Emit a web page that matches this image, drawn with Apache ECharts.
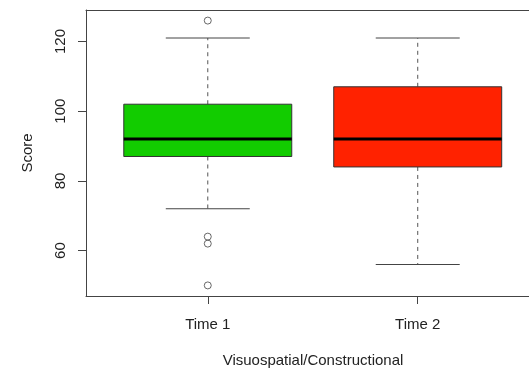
<!DOCTYPE html>
<html>
<head>
<meta charset="utf-8">
<script src="https://cdn.jsdelivr.net/npm/echarts@6/dist/echarts.min.js"></script>
<style>html,body{margin:0;padding:0;background:#fff}#c{width:529px;height:373px}</style>
</head>
<body>
<div id="c"></div>
<script>
var categories = ['Time 1', 'Time 2'];
var lowerWhisker = [72, 56];
var q1 = [87, 84];
var median = [92, 92];
var q3 = [102, 107];
var upperWhisker = [121, 121];
var outliers = [[126, 64, 62, 50], []];
var boxColors = ['#12CC00', '#FF2200'];
var yTicks = [60, 80, 100, 120];
var xTitle = 'Visuospatial/Constructional';
var yTitle = 'Score';

var boxData = categories.map(function (c, i) {
  return [i + 1, lowerWhisker[i], q1[i], median[i], q3[i], upperWhisker[i]];
});
var outlierData = [];
outliers.forEach(function (arr, i) {
  arr.forEach(function (v) { outlierData.push([i + 1, v]); });
});

var chart = echarts.init(document.getElementById('c'), null, {renderer: 'canvas'});
var font = 'Liberation Sans, Arial, sans-serif';
var lineCol = '#444';
var xMin = 0.42, xMax = 2.53;
chart.setOption({
  animation: false,
  backgroundColor: '#fff',
  grid: {left: 86, top: 10, right: 0, height: 286, show: false},
  xAxis: [{
    type: 'value', min: xMin, max: xMax, position: 'bottom',
    splitLine: {show: false},
    axisLine: {show: true, onZero: false, lineStyle: {color: lineCol, width: 1}},
    axisTick: {show: true, length: 8, customValues: [1, 2], lineStyle: {color: lineCol}},
    axisLabel: {show: true, margin: 21, customValues: [1, 2], color: '#222', fontSize: 15, fontFamily: font,
      formatter: function (v) { return categories[Math.round(v) - 1] || ''; }}
  }, {
    type: 'value', min: xMin, max: xMax, position: 'top',
    splitLine: {show: false},
    axisLine: {show: true, onZero: false, lineStyle: {color: lineCol, width: 1}},
    axisTick: {show: false}, axisLabel: {show: false}
  }],
  yAxis: {
    type: 'value', min: 46.96, max: 129.04,
    splitLine: {show: false},
    axisLine: {show: true, onZero: false, lineStyle: {color: lineCol, width: 1}},
    axisTick: {show: true, length: 8, customValues: yTicks, lineStyle: {color: lineCol}},
    axisLabel: {show: true, rotate: 90, margin: 18, customValues: yTicks, color: '#222', fontSize: 15, fontFamily: font},
    name: yTitle, nameLocation: 'middle', nameGap: 51, nameRotate: 90,
    nameTextStyle: {color: '#222', fontSize: 15, fontFamily: font}
  },
  graphic: [{
    type: 'text', x: 313, y: 361,
    style: {text: xTitle, fill: '#222', font: '15px ' + font, textAlign: 'center', textVerticalAlign: 'middle'}
  }],
  series: [{
    type: 'custom',
    data: boxData,
    encode: {x: 0, y: [1, 2, 3, 4, 5]},
    renderItem: function (params, api) {
      var x = api.value(0);
      var pLow = api.coord([x, api.value(1)]);
      var pQ1 = api.coord([x, api.value(2)]);
      var pMed = api.coord([x, api.value(3)]);
      var pQ3 = api.coord([x, api.value(4)]);
      var pUp = api.coord([x, api.value(5)]);
      var half = api.size([0.4, 0])[0];
      var capHalf = api.size([0.2, 0])[0];
      var cx = pMed[0];
      var dash = {stroke: '#555', lineWidth: 1, lineDash: [4, 4]};
      var solid = {stroke: lineCol, lineWidth: 1};
      return {
        type: 'group',
        children: [
          {type: 'line', shape: {x1: cx, y1: pQ3[1], x2: cx, y2: pUp[1]}, style: dash},
          {type: 'line', shape: {x1: cx, y1: pQ1[1], x2: cx, y2: pLow[1]}, style: dash},
          {type: 'line', shape: {x1: cx - capHalf, y1: pUp[1], x2: cx + capHalf, y2: pUp[1]}, style: solid},
          {type: 'line', shape: {x1: cx - capHalf, y1: pLow[1], x2: cx + capHalf, y2: pLow[1]}, style: solid},
          {type: 'rect', shape: {x: cx - half, y: pQ3[1], width: 2 * half, height: pQ1[1] - pQ3[1]},
            style: {fill: boxColors[params.dataIndex], stroke: '#333', lineWidth: 1}},
          {type: 'line', shape: {x1: cx - half, y1: pMed[1], x2: cx + half, y2: pMed[1]}, style: {stroke: '#000', lineWidth: 3}}
        ]
      };
    }
  }, {
    type: 'scatter',
    data: outlierData,
    symbol: 'circle',
    symbolSize: 7,
    itemStyle: {color: 'transparent', borderColor: lineCol, borderWidth: 1},
    silent: true
  }]
});
</script>
</body>
</html>
